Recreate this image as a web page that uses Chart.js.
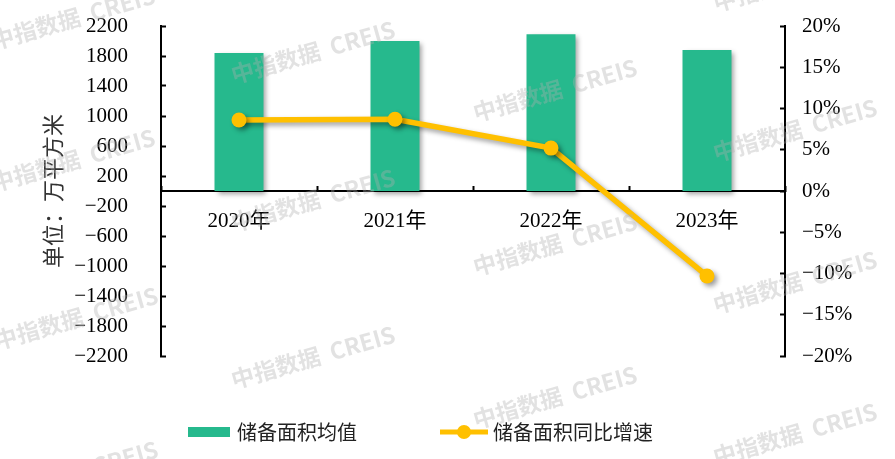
<!DOCTYPE html>
<html><head><meta charset="utf-8">
<script src="https://cdn.jsdelivr.net/npm/chart.js@4.4.0/dist/chart.umd.min.js"></script>
<style>html,body{margin:0;padding:0;background:#fff;}#wrap{width:895px;height:459px;position:relative;}</style>
</head><body><div id="wrap"><canvas id="c" width="895" height="459"></canvas></div>
<script>
// ---- data ----
const categories = ['2020年', '2021年', '2022年', '2023年'];
const reserveArea = [1840, 2000, 2090, 1880];          // 储备面积均值 (万平方米)
const reserveGrowth = [8.6, 8.7, 5.2, -10.3];          // 储备面积同比增速 (%)
const leftTicks = [-2200, -1800, -1400, -1000, -600, -200, 200, 600, 1000, 1400, 1800, 2200];
const rightTicks = [-20, -15, -10, -5, 0, 5, 10, 15, 20];
const seriesNames = ['储备面积均值', '储备面积同比增速'];
const axisTitle = '单位：万平方米';
const watermarkText = '中指数据  CREIS';

// ---- styles ----
const GREEN = '#26b98d';
const GOLD = '#ffc000';
const NUM_FONT = "'Liberation Serif', 'Noto Sans CJK SC', serif";
const CJK_FONT = "'Noto Sans CJK SC', sans-serif";
const fmt = v => String(v).replace('-', '\u2212');

const shadowPlugin = {
  id: 'shadow',
  beforeDatasetDraw(chart) {
    const ctx = chart.ctx; ctx.save();
    ctx.shadowColor = 'rgba(0,0,0,0.38)'; ctx.shadowBlur = 5;
    ctx.shadowOffsetX = 3; ctx.shadowOffsetY = 3;
  },
  afterDatasetDraw(chart) { chart.ctx.restore(); }
};

const legendPlugin = {
  id: 'customLegend',
  afterDraw(chart) {
    const ctx = chart.ctx;
    const y = chart.chartArea.bottom + 76;
    ctx.save();
    ctx.font = '20px ' + CJK_FONT;
    ctx.textBaseline = 'middle'; ctx.textAlign = 'left';
    let x = 188;
    ctx.fillStyle = chart.data.datasets[0].backgroundColor;
    ctx.fillRect(x, y - 5, 42, 10);
    ctx.fillStyle = '#222';
    ctx.fillText(chart.data.datasets[0].label, x + 49, y);
    x = 440;
    ctx.strokeStyle = chart.data.datasets[1].borderColor; ctx.lineWidth = 5;
    ctx.beginPath(); ctx.moveTo(x, y); ctx.lineTo(x + 48, y); ctx.stroke();
    ctx.fillStyle = chart.data.datasets[1].borderColor;
    ctx.beginPath(); ctx.arc(x + 24, y, 7, 0, Math.PI * 2); ctx.fill();
    ctx.fillStyle = '#222';
    ctx.fillText(chart.data.datasets[1].label, x + 53, y);
    ctx.restore();
  }
};

const watermarkSpots = [[73, 18], [73, 160], [76, 318], [76, 472], [313, 52], [313, 200], [313, 357],
  [555, 90], [555, 244], [555, 397], [795, -20], [795, 130], [795, 282], [795, 434]];
const watermarkPlugin = {
  id: 'watermark',
  afterDraw(chart) {
    const ctx = chart.ctx;
    ctx.save();
    ctx.font = 'bold 23px ' + CJK_FONT;
    ctx.fillStyle = 'rgba(175,175,175,0.36)';
    ctx.textAlign = 'center'; ctx.textBaseline = 'middle';
    watermarkSpots.forEach(([x, y]) => {
      ctx.save(); ctx.translate(x, y); ctx.rotate(-16 * Math.PI / 180);
      ctx.fillText(watermarkText, 0, 0); ctx.restore();
    });
    ctx.restore();
  }
};

const trimPad = s => { s.paddingTop = 10; s.paddingBottom = 10; };

new Chart(document.getElementById('c'), {
  data: {
    labels: categories,
    datasets: [
      { type: 'bar', label: seriesNames[0], data: reserveArea, yAxisID: 'y', order: 1,
        backgroundColor: GREEN, borderWidth: 0, barPercentage: 0.314, categoryPercentage: 1 },
      { type: 'line', label: seriesNames[1], data: reserveGrowth, yAxisID: 'y1', order: 0,
        borderColor: GOLD, backgroundColor: GOLD, borderWidth: 5.5, tension: 0,
        pointRadius: 7.5, pointHoverRadius: 7.5, pointBackgroundColor: GOLD, pointBorderWidth: 0 }
    ]
  },
  options: {
    responsive: false, animation: false, devicePixelRatio: 1,
    layout: { padding: { left: 0, right: 0, top: 26, bottom: 103 } },
    plugins: { legend: { display: false }, tooltip: { enabled: false } },
    scales: {
      x: {
        type: 'category', position: { y: 0 }, offset: true,
        grid: { offset: true, drawOnChartArea: false, drawTicks: true, tickLength: -6, tickColor: '#000', tickWidth: 2 },
        border: { display: true, color: '#000', width: 2 },
        ticks: { color: '#000', padding: 24, font: { family: NUM_FONT, size: 21 } }
      },
      y: {
        position: 'left', min: -2200, max: 2200,
        afterBuildTicks: s => { s.ticks = leftTicks.map(v => ({ value: v })); },
        afterFit: s => { s.width = 161; trimPad(s); },
        grid: { drawOnChartArea: false, drawTicks: true, tickLength: -5, tickColor: '#000', tickWidth: 2 },
        border: { display: true, color: '#000', width: 2 },
        ticks: { color: '#000', padding: 38, font: { family: NUM_FONT, size: 21 }, callback: v => fmt(v) },
        title: { display: true, text: axisTitle, color: '#333', padding: { top: 39, bottom: 0 },
                 font: { family: CJK_FONT, size: 22 } }
      },
      y1: {
        position: 'right', min: -20, max: 20,
        afterBuildTicks: s => { s.ticks = rightTicks.map(v => ({ value: v })); },
        afterFit: s => { s.width = 110; trimPad(s); },
        grid: { drawOnChartArea: false, drawTicks: true, tickLength: -5, tickColor: '#000', tickWidth: 2 },
        border: { display: true, color: '#000', width: 2 },
        ticks: { color: '#000', padding: 22, font: { family: NUM_FONT, size: 21 }, callback: v => fmt(v) + '%' }
      }
    }
  },
  plugins: [shadowPlugin, legendPlugin, watermarkPlugin]
});
</script></body></html>
